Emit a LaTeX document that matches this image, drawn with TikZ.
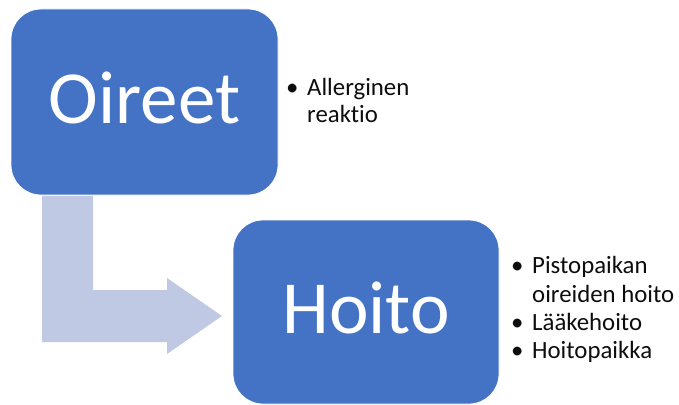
\documentclass[tikz,border=0pt]{standalone}
\usepackage{fontspec}
\setmainfont[RawFeature={-liga}]{Carlito}
\definecolor{boxblue}{HTML}{4472C4}
\definecolor{arrowblue}{HTML}{BFC9E3}
\definecolor{bullettext}{HTML}{0D0D0D}
\tikzset{
  stagebox/.style={draw=white, line width=0.8pt, fill=boxblue, rounded corners=30pt, inner sep=0pt},
  stagelabel/.style={text=white, font=\fontsize{75}{80}\selectfont, anchor=base, inner sep=0pt},
  bulletmark/.style={text=bullettext, font=\fontsize{24.8}{28}\selectfont, anchor=base west, inner sep=0pt},
  bullettxt/.style={text=bullettext, font=\fontsize{24.8}{28}\selectfont, anchor=base west, inner sep=0pt},
}
\begin{document}
\begin{tikzpicture}[x=1pt, y=-1pt]
\useasboundingbox (0,0) rectangle (679,404);

% bent arrow leading from the first stage to the second
\fill[arrowblue] (42,196) coordinate (bendstart) -- (93,196) -- (93,290) -- (167,290) -- (167,278)
  -- (222,316) coordinate (bendtip) -- (167,354) -- (167,342) -- (42,342) -- cycle;

% stage boxes
\node[stagebox, minimum width=267pt, minimum height=186pt] (oireet) at (144.5,102) {};
\node[stagebox, minimum width=266pt, minimum height=184pt] (hoito) at (366,312) {};

\node[stagelabel] (oireetlabel) at (144.5,123) {Oireet};
\node[stagelabel] (hoitolabel) at (366,333) {Hoito};

% details of the first stage
\node[bulletmark] (b1) at (286,95) {•};
\node[bullettxt] (t1) at (307,95) {Allerginen};
\node[bullettxt] (t1b) at (307,122) {reaktio};

% details of the second stage
\node[bulletmark] (b2) at (511,273) {•};
\node[bullettxt] (t2) at (532,273) {Pistopaikan};
\node[bullettxt] (t2b) at (532,302) {oireiden hoito};
\node[bulletmark] (b3) at (511,330) {•};
\node[bullettxt] (t3) at (532,330) {Lääkehoito};
\node[bulletmark] (b4) at (511,358) {•};
\node[bullettxt] (t4) at (532,358) {Hoitopaikka};
\end{tikzpicture}
\end{document}
